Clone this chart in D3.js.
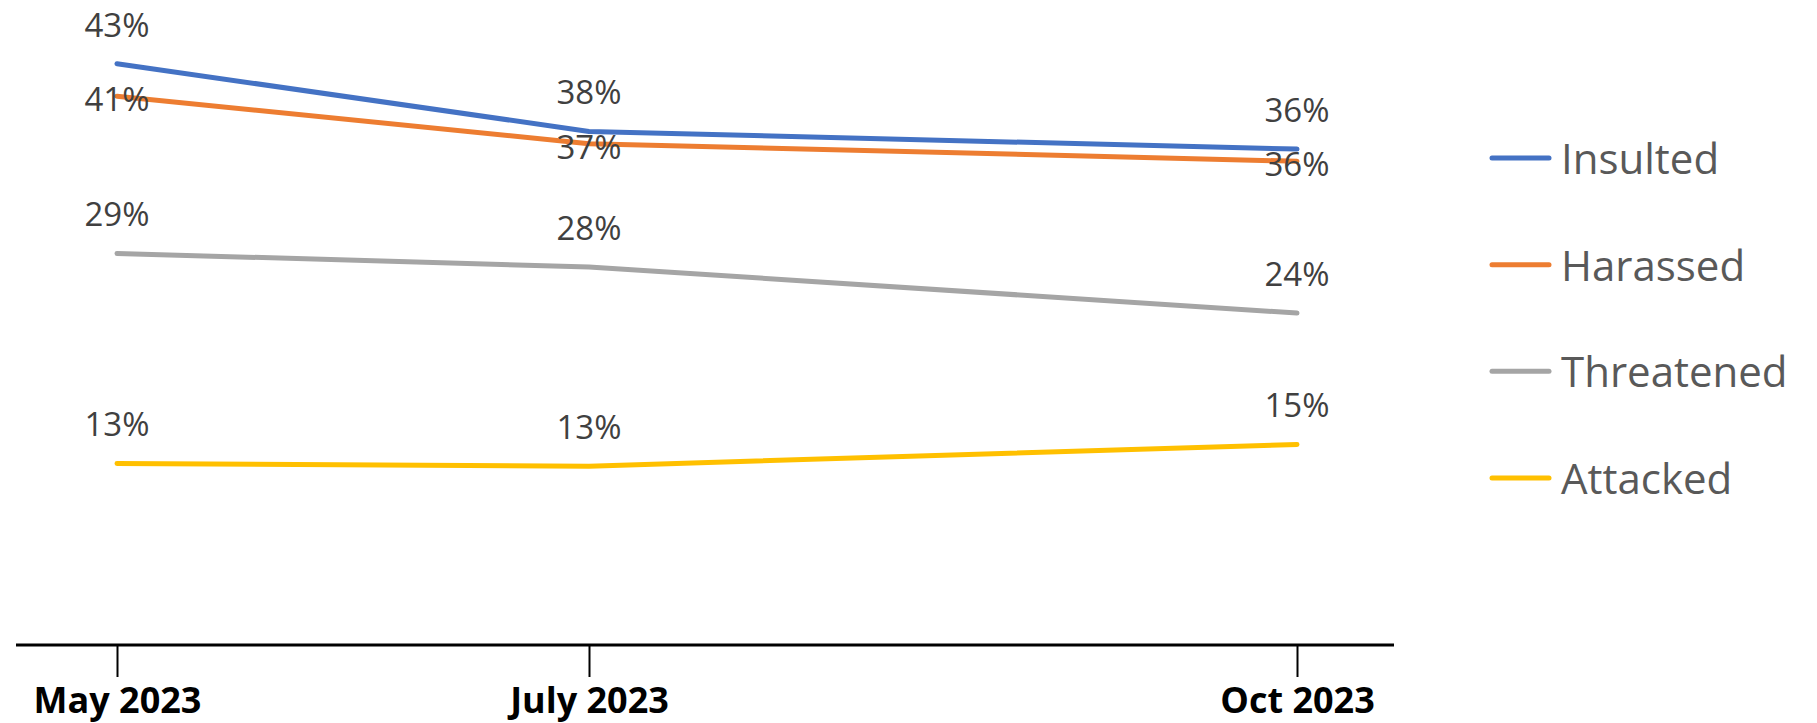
<!DOCTYPE html>
<html>
<head>
<meta charset="utf-8">
<script src="https://cdn.jsdelivr.net/npm/d3@7"></script>
<style>
  html, body { margin: 0; padding: 0; background: #ffffff; }
  svg { display: block; }
</style>
</head>
<body>
<svg id="chart" width="1817" height="723"></svg>
<script>
// ---- data ----
const months = [5, 7, 10];                       // month number in 2023
const tickLabels = ["May 2023", "July 2023", "Oct 2023"];
const seriesNames = ["Insulted", "Harassed", "Threatened", "Attacked"];
const insulted   = [42.9, 37.9, 36.6];
const harassed   = [40.5, 37.0, 35.7];
const threatened = [28.9, 27.9, 24.5];
const attacked   = [13.4, 13.2, 14.8];
const insultedLabels   = ["43%", "38%", "36%"];
const harassedLabels   = ["41%", "37%", "36%"];
const threatenedLabels = ["29%", "28%", "24%"];
const attackedLabels   = ["13%", "13%", "15%"];

// ---- styling / layout ----
const colors = ["#4472C4", "#ED7D31", "#A5A5A5", "#FFC000"];
const labelBelow = [false, true, false, false];  // Harassed labels sit on/under the line
const font = "'Open Sans', 'Noto Sans', sans-serif";

const svg = d3.select("#chart");
const axisY = 645, axisLeft = 16, axisRight = 1394;

const x = d3.scaleLinear().domain([5, 10]).range([117, 1297]);
const y = d3.scaleLinear().domain([0, 45]).range([axisY, axisY - 45 * 13.55]);

const series = [
  { name: seriesNames[0], values: insulted,   labels: insultedLabels },
  { name: seriesNames[1], values: harassed,   labels: harassedLabels },
  { name: seriesNames[2], values: threatened, labels: threatenedLabels },
  { name: seriesNames[3], values: attacked,   labels: attackedLabels }
];

// ---- x axis ----
svg.append("line")
  .attr("x1", axisLeft).attr("x2", axisRight)
  .attr("y1", axisY).attr("y2", axisY)
  .attr("stroke", "#000").attr("stroke-width", 3.2);

const xAxis = d3.axisBottom(x).tickValues(months).tickSize(32).tickSizeOuter(0)
  .tickFormat((d, i) => tickLabels[i]);
const gx = svg.append("g").attr("transform", `translate(0,${axisY})`).call(xAxis);
gx.select(".domain").remove();
gx.selectAll(".tick line").attr("stroke", "#000").attr("stroke-width", 2);
gx.selectAll(".tick text")
  .attr("y", 68).attr("dy", 0)
  .attr("fill", "#000")
  .style("font-family", font)
  .style("font-weight", "700")
  .style("font-size", "36px");

// ---- lines ----
const line = d3.line().x((d, i) => x(months[i])).y(d => y(d));
svg.append("g").selectAll("path")
  .data(series).join("path")
  .attr("d", s => line(s.values))
  .attr("fill", "none")
  .attr("stroke", (s, i) => colors[i])
  .attr("stroke-width", 5)
  .attr("stroke-linecap", "round")
  .attr("stroke-linejoin", "round");

// ---- data labels ----
series.forEach((s, si) => {
  svg.append("g").selectAll("text")
    .data(s.values).join("text")
    .attr("x", (d, i) => x(months[i]))
    .attr("y", d => labelBelow[si] ? y(d) + 15 : y(d) - 27)
    .attr("text-anchor", "middle")
    .attr("fill", "#404040")
    .style("font-family", font)
    .style("font-size", "33px")
    .text((d, i) => s.labels[i]);
});

// ---- legend ----
const legendY = d3.scalePoint().domain(seriesNames).range([158, 478]);
const lg = svg.append("g").selectAll("g")
  .data(series).join("g")
  .attr("transform", s => `translate(0,${legendY(s.name)})`);
lg.append("line")
  .attr("x1", 1492).attr("x2", 1549).attr("y1", 0).attr("y2", 0)
  .attr("stroke", (s, i) => colors[i])
  .attr("stroke-width", 5)
  .attr("stroke-linecap", "round");
lg.append("text")
  .attr("x", 1561).attr("y", 16)
  .attr("fill", "#595959")
  .style("font-family", font)
  .style("font-size", "42px")
  .text(s => s.name);
</script>
</body>
</html>
